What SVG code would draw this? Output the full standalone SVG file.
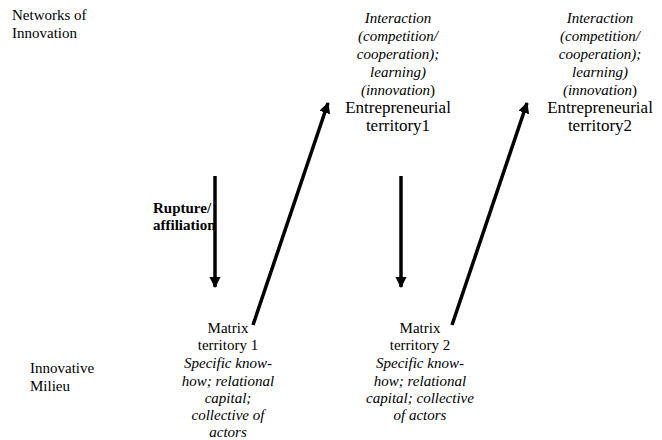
<svg xmlns="http://www.w3.org/2000/svg" width="662" height="440" viewBox="0 0 662 440">
<style>
text{fill:#000;font-size:15px}
.c{text-anchor:middle}
.i{font-style:italic}
.b{font-weight:bold}
.big{font-size:17px}
.conn line{stroke:#000;stroke-width:3.5}
</style>
<defs>
<marker id="ah" viewBox="0 0 10 10" refX="9" refY="5" markerWidth="3.2" markerHeight="3.2" orient="auto" markerUnits="strokeWidth">
<path d="M0,0 L10,5 L0,10 z" fill="#000"/>
</marker>
</defs>
<rect width="662" height="440" fill="#fff"/>
<g font-family="'Liberation Serif', 'Times New Roman', Times, 'DejaVu Serif', serif">
<g id="label-networks">
<text x="12" y="20">Networks of</text>
<text x="12" y="38">Innovation</text>
</g>
<g id="label-milieu">
<text x="30" y="373">Innovative</text>
<text x="30" y="391">Milieu</text>
</g>
<g id="entrepreneurial1">
<text class="c i" x="398" y="23">Interaction</text>
<text class="c i" x="398" y="41">(competition/</text>
<text class="c i" x="398" y="59">cooperation);</text>
<text class="c i" x="398" y="77">learning)</text>
<text class="c" x="398" y="95"><tspan class="i">(innovation</tspan>)</text>
<text class="c big" x="398" y="113">Entrepreneurial</text>
<text class="c big" x="398" y="131">territory1</text>
</g>
<g id="entrepreneurial2">
<text class="c i" x="600" y="23">Interaction</text>
<text class="c i" x="600" y="41">(competition/</text>
<text class="c i" x="600" y="59">cooperation);</text>
<text class="c i" x="600" y="77">learning)</text>
<text class="c" x="600" y="95"><tspan class="i">(innovation</tspan>)</text>
<text class="c big" x="600" y="113">Entrepreneurial</text>
<text class="c big" x="600" y="131">territory2</text>
</g>
<g id="matrix1">
<text class="c" x="228" y="333">Matrix</text>
<text class="c" x="228" y="350">territory 1</text>
<text class="c i" x="228" y="368">Specific know-</text>
<text class="c i" x="228" y="386">how; relational</text>
<text class="c i" x="228" y="403">capital;</text>
<text class="c i" x="228" y="420">collective of</text>
<text class="c i" x="228" y="437">actors</text>
</g>
<g id="matrix2">
<text class="c" x="420" y="333">Matrix</text>
<text class="c" x="420" y="350">territory 2</text>
<text class="c i" x="420" y="368">Specific know-</text>
<text class="c i" x="420" y="386">how; relational</text>
<text class="c i" x="420" y="403">capital; collective</text>
<text class="c i" x="420" y="420">of actors</text>
</g>
<g id="label-rupture">
<text class="b" x="153" y="213">Rupture/</text>
<text class="b" x="153" y="230">affiliation</text>
</g>
</g>
<g id="connectors" class="conn">
<line x1="215" y1="176" x2="215" y2="287" marker-end="url(#ah)"/>
<line x1="401" y1="176" x2="401" y2="287" marker-end="url(#ah)"/>
<line x1="253" y1="325" x2="328" y2="103" marker-end="url(#ah)"/>
<line x1="452" y1="325" x2="527" y2="103" marker-end="url(#ah)"/>
</g>
</svg>
